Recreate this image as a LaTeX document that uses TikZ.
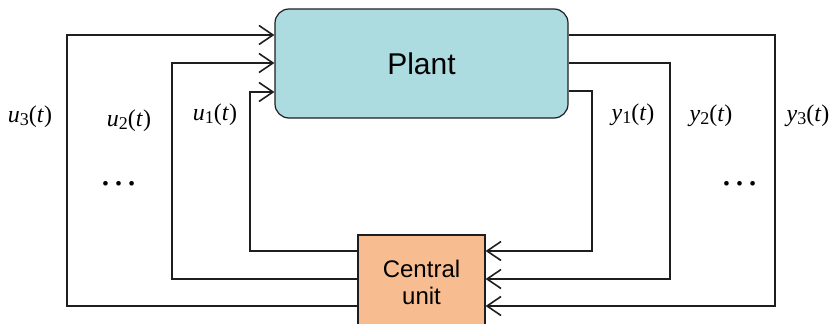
\documentclass[tikz,border=0pt]{standalone}
\usepackage{fontspec}
\setmainfont{Liberation Sans}
\newfontfamily\tms{Liberation Serif}
\usetikzlibrary{arrows.meta}
\definecolor{plantc}{RGB}{172,220,224}
\definecolor{cuc}{RGB}{247,188,143}
\definecolor{linec}{RGB}{30,30,30}
\newcommand{\lbl}[2]{{\tms\fontsize{24}{24}\selectfont\textit{#1}\raisebox{-0.12em}{\fontsize{18}{18}\selectfont #2}(\textit{t})}}
\tikzset{
  wire/.style={draw=linec, line width=1.6pt},
  arr/.style={wire, -{Straight Barb[length=14pt,width=19pt,line width=1.6pt]}},
  plantbox/.style={draw=linec, line width=1.2pt, fill=plantc, rounded corners=14pt,
    minimum width=293pt, minimum height=109pt, inner sep=0pt,
    font=\fontsize{30}{30}\selectfont},
  cubox/.style={draw=linec, line width=1.2pt, fill=cuc, minimum width=127pt,
    minimum height=100pt, inner sep=0pt},
  culabel/.style={align=center, inner sep=0pt, font=\fontsize{24}{27}\selectfont},
  sig/.style={inner sep=0pt},
  dots/.style={inner sep=0pt, font=\tms\fontsize{39}{39}\selectfont}
}
\begin{document}
\begin{tikzpicture}[x=1pt,y=-1pt]
\useasboundingbox (0,0) rectangle (833,324);
\clip (0,0) rectangle (833,324);
\node[plantbox] (plant) at (421.5,63.5) {Plant};
\node[cubox] (cu) at (421.5,285) {};
\node[culabel] (cut) at (421.5,282) {Central\\unit};
% inputs
\foreach \x/\yt/\yb in {250/92/251, 172/63/279, 67/35/306}
  \draw[arr] (cu.west |- 0,\yb) -| (\x,\yt) -- (plant.west |- 0,\yt);
% outputs
\foreach \x/\yt/\yb in {592/91/251, 670/63/279, 775/35/306}
  \draw[arr] (plant.east |- 0,\yt) -| (\x,\yb) -- (cu.east |- 0,\yb);
\node[sig] (u3) at (30,117) {\lbl{u}{3}};
\node[sig] (u2) at (129,121) {\lbl{u}{2}};
\node[sig] (u1) at (215,115) {\lbl{u}{1}};
\node[sig] (y1) at (633,115) {\lbl{y}{1}};
\node[sig] (y2) at (711,116) {\lbl{y}{2}};
\node[sig] (y3) at (808,116) {\lbl{y}{3}};
\node[dots] (dl) at (119,184) {\ldots};
\node[dots] (dr) at (740,184) {\ldots};
\end{tikzpicture}
\end{document}
